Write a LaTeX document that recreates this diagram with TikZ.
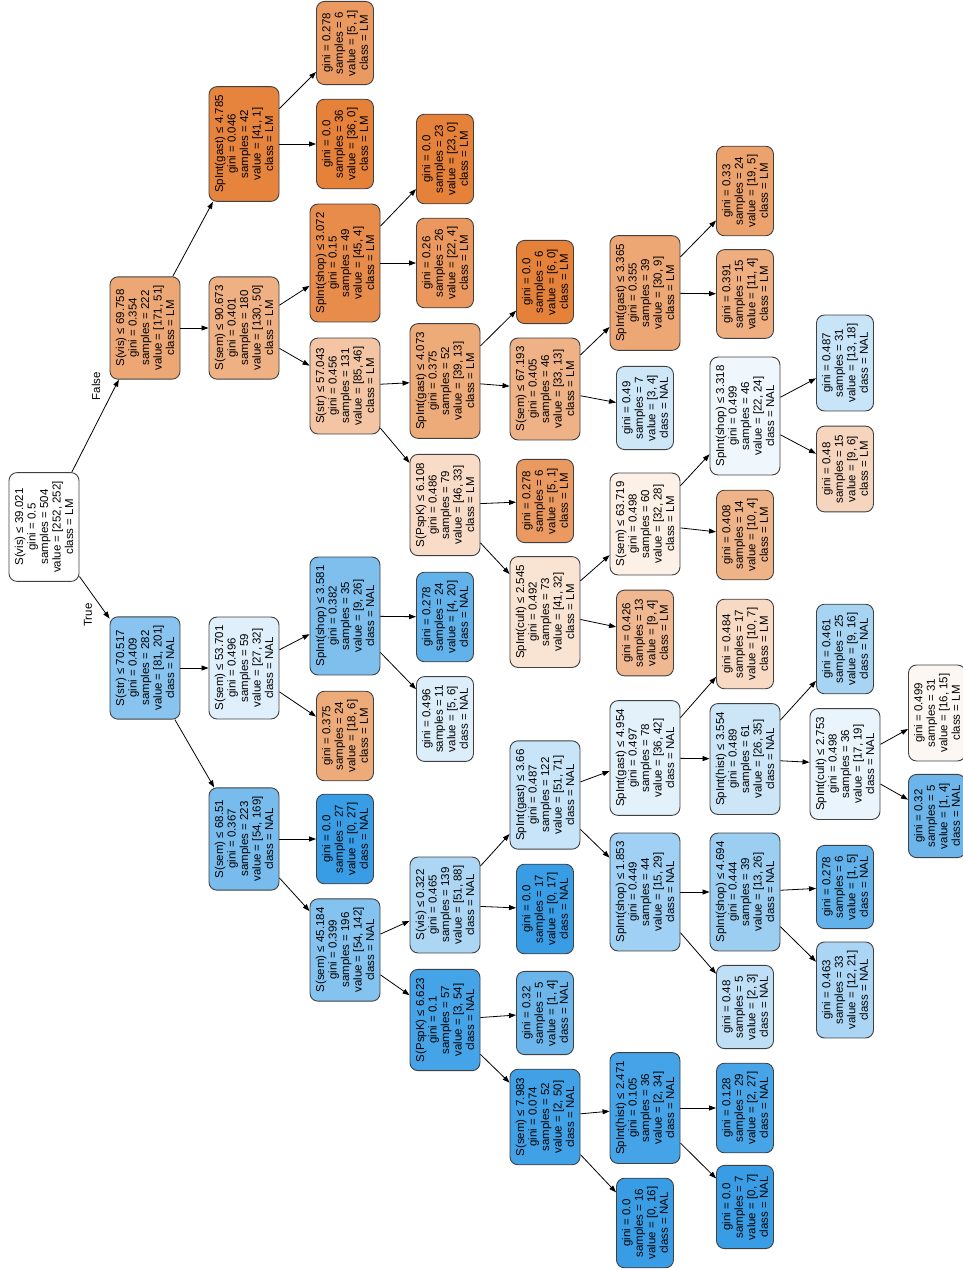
\documentclass[tikz,border=0pt]{standalone}
\usepackage{fontspec}
\setmainfont{Liberation Sans}
\usepackage{xcolor}
\usepackage{tikz}
\usetikzlibrary{arrows.meta}
\definecolor{lmcol}{RGB}{229,129,57}
\definecolor{nalcol}{RGB}{57,157,229}
\tikzset{
    split/.style={rectangle, rounded corners=8pt, rotate=90, draw=black!75, line width=0.9pt, align=center, inner xsep=8.5pt, inner ysep=3pt, minimum height=70pt, font=\fontsize{11.5}{12.5}\selectfont},
    leaf/.style={split, minimum height=57pt},
    lm/.style={fill=lmcol!#1!white},
    nal/.style={fill=nalcol!#1!white},
    branch/.style={rotate=90, inner sep=1pt, font=\fontsize{11.5}{12.5}\selectfont}
}

\begin{document}
\begin{tikzpicture}[x=1pt, y=-1pt,
  arrow/.style={-{Triangle[length=7pt, width=5pt]}, line width=0.8pt}]
  \useasboundingbox (0,0) rectangle (963,1270);
  % root
  \node[split, lm=0] (n0) at (44,527) {S(vis) ≤ 39.021\\gini = 0.5\\samples = 504\\value = [252, 252]\\class = LM};
  % True side
  \node[split, nal=60] (n1) at (145,668) {S(str) ≤ 70.517\\gini = 0.409\\samples = 282\\value = [81, 201]\\class = NAL};
  \node[split, nal=68] (n2) at (244,839) {S(sem) ≤ 68.51\\gini = 0.367\\samples = 223\\value = [54, 169]\\class = NAL};
  \node[split, nal=62] (n3) at (345,950) {S(sem) ≤ 45.184\\gini = 0.399\\samples = 196\\value = [54, 142]\\class = NAL};
  \node[split, nal=94] (n4) at (445,1020) {S(PspK) ≤ 6.623\\gini = 0.1\\samples = 57\\value = [3, 54]\\class = NAL};
  \node[split, nal=96] (n5) at (545,1117) {S(sem) ≤ 7.983\\gini = 0.074\\samples = 52\\value = [2, 50]\\class = NAL};
  \node[leaf, nal=100] (n6) at (645,1223) {gini = 0.0\\samples = 16\\value = [0, 16]\\class = NAL};
  \node[split, nal=94] (n7) at (645,1108) {SpInt(hist) ≤ 2.471\\gini = 0.105\\samples = 36\\value = [2, 34]\\class = NAL};
  \node[leaf, nal=100] (n8) at (745,1207) {gini = 0.0\\samples = 7\\value = [0, 7]\\class = NAL};
  \node[leaf, nal=93] (n9) at (745,1108) {gini = 0.128\\samples = 29\\value = [2, 27]\\class = NAL};
  \node[leaf, nal=75] (n10) at (545,1013) {gini = 0.32\\samples = 5\\value = [1, 4]\\class = NAL};
  \node[split, nal=42] (n11) at (445,905) {S(vis) ≤ 0.322\\gini = 0.465\\samples = 139\\value = [51, 88]\\class = NAL};
  \node[leaf, nal=100] (n12) at (545,909) {gini = 0.0\\samples = 17\\value = [0, 17]\\class = NAL};
  \node[split, nal=28] (n13) at (545,795) {SpInt(gast) ≤ 3.66\\gini = 0.487\\samples = 122\\value = [51, 71]\\class = NAL};
  \node[split, nal=48] (n14) at (645,892) {SpInt(shop) ≤ 1.853\\gini = 0.449\\samples = 44\\value = [15, 29]\\class = NAL};
  \node[leaf, nal=33] (n15) at (745,1007) {gini = 0.48\\samples = 5\\value = [2, 3]\\class = NAL};
  \node[split, nal=50] (n16) at (745,892) {SpInt(shop) ≤ 4.694\\gini = 0.444\\samples = 39\\value = [13, 26]\\class = NAL};
  \node[leaf, nal=43] (n17) at (845,990) {gini = 0.463\\samples = 33\\value = [12, 21]\\class = NAL};
  \node[leaf, nal=80] (n18) at (845,887) {gini = 0.278\\samples = 6\\value = [1, 5]\\class = NAL};
  \node[split, nal=14] (n19) at (645,758) {SpInt(gast) ≤ 4.954\\gini = 0.497\\samples = 78\\value = [36, 42]\\class = NAL};
  \node[split, nal=26] (n20) at (745,759) {SpInt(hist) ≤ 3.554\\gini = 0.489\\samples = 61\\value = [26, 35]\\class = NAL};
  \node[split, nal=11] (n21) at (845,764) {SpInt(cult) ≤ 2.753\\gini = 0.498\\samples = 36\\value = [17, 19]\\class = NAL};
  \node[leaf, nal=75] (n22) at (937,816) {gini = 0.32\\samples = 5\\value = [1, 4]\\class = NAL};
  \node[leaf, lm=6] (n23) at (937,713) {gini = 0.499\\samples = 31\\value = [16, 15]\\class = LM};
  \node[leaf, nal=44] (n24) at (845,649) {gini = 0.461\\samples = 25\\value = [9, 16]\\class = NAL};
  \node[leaf, lm=30] (n25) at (745,644) {gini = 0.484\\samples = 17\\value = [10, 7]\\class = LM};
  \node[leaf, nal=100] (n26) at (345,839) {gini = 0.0\\samples = 27\\value = [0, 27]\\class = NAL};
  \node[split, nal=16] (n27) at (244,668) {S(sem) ≤ 53.701\\gini = 0.496\\samples = 59\\value = [27, 32]\\class = NAL};
  \node[leaf, lm=67] (n28) at (345,736) {gini = 0.375\\samples = 24\\value = [18, 6]\\class = LM};
  \node[split, nal=65] (n29) at (345,616) {SpInt(shop) ≤ 3.581\\gini = 0.382\\samples = 35\\value = [9, 26]\\class = NAL};
  \node[leaf, nal=17] (n30) at (445,719) {gini = 0.496\\samples = 11\\value = [5, 6]\\class = NAL};
  \node[leaf, nal=80] (n31) at (445,617) {gini = 0.278\\samples = 24\\value = [4, 20]\\class = NAL};
  % False side
  \node[split, lm=70] (n32) at (145,328) {S(vis) ≤ 69.758\\gini = 0.354\\samples = 222\\value = [171, 51]\\class = LM};
  \node[split, lm=62] (n33) at (244,328) {S(sem) ≤ 90.673\\gini = 0.401\\samples = 180\\value = [130, 50]\\class = LM};
  \node[split, lm=46] (n34) at (345,386) {S(str) ≤ 57.043\\gini = 0.456\\samples = 131\\value = [85, 46]\\class = LM};
  \node[split, lm=28] (n35) at (445,505) {S(PspK) ≤ 6.108\\gini = 0.486\\samples = 79\\value = [46, 33]\\class = LM};
  \node[split, lm=22] (n36) at (545,612) {SpInt(cult) ≤ 2.545\\gini = 0.492\\samples = 73\\value = [41, 32]\\class = LM};
  \node[leaf, lm=56] (n37) at (645,633) {gini = 0.426\\samples = 13\\value = [9, 4]\\class = LM};
  \node[split, lm=12] (n38) at (645,524) {S(sem) ≤ 63.719\\gini = 0.498\\samples = 60\\value = [32, 28]\\class = LM};
  \node[leaf, lm=60] (n39) at (745,535) {gini = 0.408\\samples = 14\\value = [10, 4]\\class = LM};
  \node[split, nal=8] (n40) at (745,416) {SpInt(shop) ≤ 3.318\\gini = 0.499\\samples = 46\\value = [22, 24]\\class = NAL};
  \node[leaf, lm=33] (n41) at (845,469) {gini = 0.48\\samples = 15\\value = [9, 6]\\class = LM};
  \node[leaf, nal=28] (n42) at (845,363) {gini = 0.487\\samples = 31\\value = [13, 18]\\class = NAL};
  \node[leaf, lm=80] (n43) at (545,501) {gini = 0.278\\samples = 6\\value = [5, 1]\\class = LM};
  \node[split, lm=67] (n44) at (445,381) {SpInt(gast) ≤ 4.073\\gini = 0.375\\samples = 52\\value = [39, 13]\\class = LM};
  \node[split, lm=61] (n45) at (545,389) {S(sem) ≤ 67.193\\gini = 0.405\\samples = 46\\value = [33, 13]\\class = LM};
  \node[leaf, nal=25] (n46) at (645,408) {gini = 0.49\\samples = 7\\value = [3, 4]\\class = NAL};
  \node[split, lm=70] (n47) at (645,293) {SpInt(gast) ≤ 3.365\\gini = 0.355\\samples = 39\\value = [30, 9]\\class = LM};
  \node[leaf, lm=64] (n48) at (745,294) {gini = 0.391\\samples = 15\\value = [11, 4]\\class = LM};
  \node[leaf, lm=74] (n49) at (745,191) {gini = 0.33\\samples = 24\\value = [19, 5]\\class = LM};
  \node[leaf, lm=100] (n50) at (545,282) {gini = 0.0\\samples = 6\\value = [6, 0]\\class = LM};
  \node[split, lm=91] (n51) at (345,263) {SpInt(shop) ≤ 3.072\\gini = 0.15\\samples = 49\\value = [45, 4]\\class = LM};
  \node[leaf, lm=82] (n52) at (445,263) {gini = 0.26\\samples = 26\\value = [22, 4]\\class = LM};
  \node[leaf, lm=100] (n53) at (445,159) {gini = 0.0\\samples = 23\\value = [23, 0]\\class = LM};
  \node[split, lm=98] (n54) at (244,144) {SpInt(gast) ≤ 4.785\\gini = 0.046\\samples = 42\\value = [41, 1]\\class = LM};
  \node[leaf, lm=100] (n55) at (345,144) {gini = 0.0\\samples = 36\\value = [36, 0]\\class = LM};
  \node[leaf, lm=80] (n56) at (345,43) {gini = 0.278\\samples = 6\\value = [5, 1]\\class = LM};
  % branch labels
  \node[branch] (truelab) at (88,615) {True};
  \node[branch] (falselab) at (96,386) {False};
  % connectors
  \draw[arrow] (n0) -- (n1);
  \draw[arrow] (n0) -- (n32);
  \draw[arrow] (n1) -- (n2);
  \draw[arrow] (n1) -- (n27);
  \draw[arrow] (n2) -- (n3);
  \draw[arrow] (n2) -- (n26);
  \draw[arrow] (n3) -- (n4);
  \draw[arrow] (n3) -- (n11);
  \draw[arrow] (n4) -- (n5);
  \draw[arrow] (n4) -- (n10);
  \draw[arrow] (n5) -- (n6);
  \draw[arrow] (n5) -- (n7);
  \draw[arrow] (n7) -- (n8);
  \draw[arrow] (n7) -- (n9);
  \draw[arrow] (n11) -- (n12);
  \draw[arrow] (n11) -- (n13);
  \draw[arrow] (n13) -- (n14);
  \draw[arrow] (n13) -- (n19);
  \draw[arrow] (n14) -- (n15);
  \draw[arrow] (n14) -- (n16);
  \draw[arrow] (n16) -- (n17);
  \draw[arrow] (n16) -- (n18);
  \draw[arrow] (n19) -- (n20);
  \draw[arrow] (n19) -- (n25);
  \draw[arrow] (n20) -- (n21);
  \draw[arrow] (n20) -- (n24);
  \draw[arrow] (n21) -- (n22);
  \draw[arrow] (n21) -- (n23);
  \draw[arrow] (n27) -- (n28);
  \draw[arrow] (n27) -- (n29);
  \draw[arrow] (n29) -- (n30);
  \draw[arrow] (n29) -- (n31);
  \draw[arrow] (n32) -- (n33);
  \draw[arrow] (n32) -- (n54);
  \draw[arrow] (n33) -- (n34);
  \draw[arrow] (n33) -- (n51);
  \draw[arrow] (n34) -- (n35);
  \draw[arrow] (n34) -- (n44);
  \draw[arrow] (n35) -- (n36);
  \draw[arrow] (n35) -- (n43);
  \draw[arrow] (n36) -- (n37);
  \draw[arrow] (n36) -- (n38);
  \draw[arrow] (n38) -- (n39);
  \draw[arrow] (n38) -- (n40);
  \draw[arrow] (n40) -- (n41);
  \draw[arrow] (n40) -- (n42);
  \draw[arrow] (n44) -- (n45);
  \draw[arrow] (n44) -- (n50);
  \draw[arrow] (n45) -- (n46);
  \draw[arrow] (n45) -- (n47);
  \draw[arrow] (n47) -- (n48);
  \draw[arrow] (n47) -- (n49);
  \draw[arrow] (n51) -- (n52);
  \draw[arrow] (n51) -- (n53);
  \draw[arrow] (n54) -- (n55);
  \draw[arrow] (n54) -- (n56);
\end{tikzpicture}
\end{document}
